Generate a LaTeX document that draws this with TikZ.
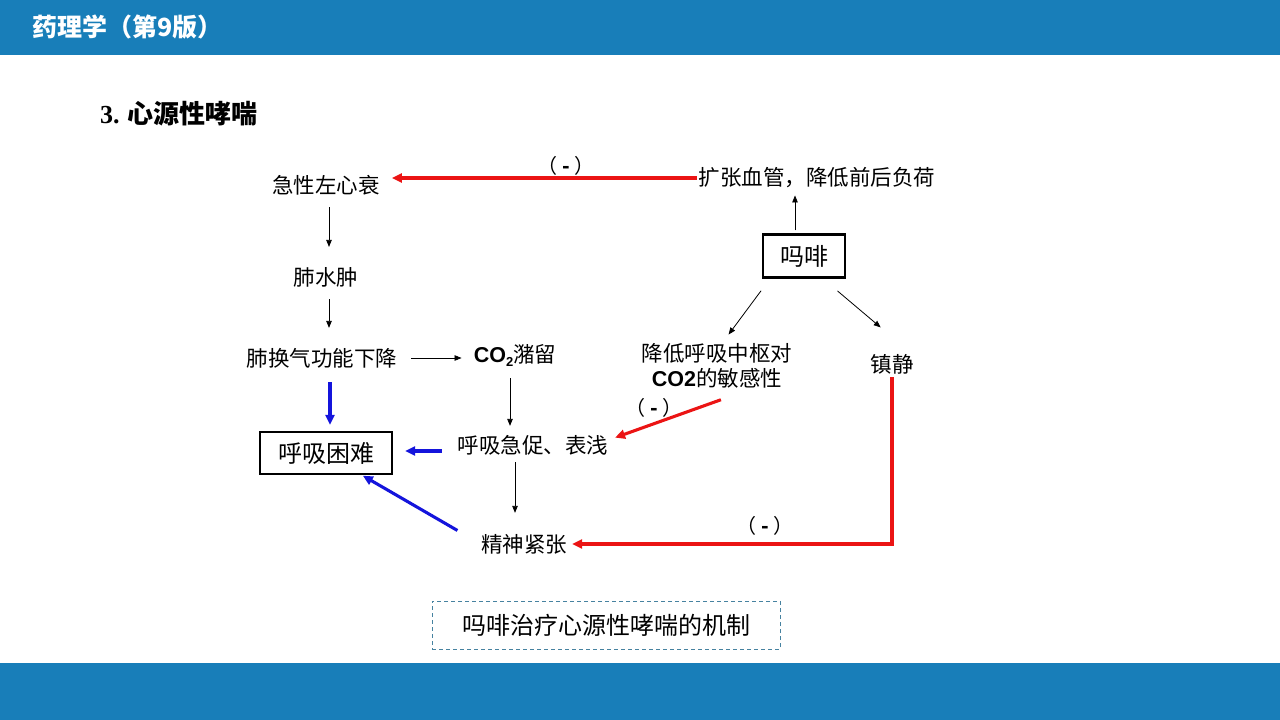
\documentclass[tikz,border=0pt]{standalone}
\usepackage{fontspec}
\setmainfont{Noto Sans CJK SC}
\newfontfamily\arialf{Liberation Sans}
\newfontfamily\timesf{Liberation Serif}
\usetikzlibrary{arrows.meta}
\definecolor{barblue}{RGB}{24,126,185}
\definecolor{arrred}{RGB}{235,20,20}
\definecolor{arrblue}{RGB}{20,20,220}
\definecolor{capline}{RGB}{70,130,160}
\begin{document}
\begin{tikzpicture}[x=1pt,y=-1pt,
  txt/.style={inner sep=0pt, font=\fontsize{21.5}{25}\selectfont, align=center},
  boxn/.style={draw=black, line width=2.4pt, inner sep=0pt, font=\fontsize{24}{28}\selectfont},
  thinarr/.style={-{Triangle[length=7pt,width=5.5pt]}, line width=0.8pt, black},
  redarr/.style={-{Triangle[length=10pt,width=9pt]}, line width=3.1pt, arrred},
  bluearr/.style={-{Triangle[length=10pt,width=9pt]}, line width=3.1pt, arrblue},
  lbl/.style={inner sep=0pt, font=\fontsize{20}{24}\selectfont}
]
\useasboundingbox (0,0) rectangle (1280,720);
\fill[barblue] (0,0) rectangle (1280,55);
\fill[barblue] (0,663) rectangle (1280,720);
\node[anchor=west, text=white, font=\bfseries\fontsize{25}{29}\selectfont, inner sep=0pt] (title) at (32,27) {药理学（第9版）};
\node[anchor=west, font=\bfseries\fontsize{26}{30}\selectfont, inner sep=0pt] (head) at (100,114) {{\timesf 3.} 心源性哮喘};

% nodes
\node[txt] (jx) at (326,185) {急性左心衰};
\node[txt] (fsz) at (326,277) {肺水肿};
\node[txt] (hq) at (322,358) {肺换气功能下降};
\node[txt] (co2) at (515,355) {{\arialf\bfseries CO\raisebox{-0.35ex}{\fontsize{13}{13}\selectfont 2}}潴留};
\node[txt] (hx) at (533,445) {呼吸急促、表浅};
\node[txt] (jszz) at (524,544) {精神紧张};
\node[boxn, minimum width=132pt, minimum height=42pt] (kn) at (326,453) {呼吸困难};
\node[txt] (kz) at (817,178) {扩张血管，降低前后负荷};
\node[boxn, minimum width=82pt, minimum height=43pt] (mf) at (804,256) {吗啡};
\node[txt] (jd) at (717,366) {降低呼吸中枢对\\{\arialf\bfseries CO2}的敏感性};
\node[txt] (zj) at (892,364) {镇静};

% labels
\node[lbl] (l1) at (566,166) {（\hspace{5pt}\textbf{-}\hspace{5pt}）};
\node[lbl] (l2) at (654,408) {（\hspace{5pt}\textbf{-}\hspace{5pt}）};
\node[lbl] (l3) at (765,526) {（\hspace{5pt}\textbf{-}\hspace{5pt}）};

% caption
\node[draw=capline, dash pattern=on 4pt off 3pt, line width=0.8pt, minimum width=348pt, minimum height=48pt, inner sep=0pt, font=\fontsize{24}{28}\selectfont] (cap) at (606,625) {吗啡治疗心源性哮喘的机制};

% black arrows
\draw[thinarr, shorten <=12pt, shorten >=20pt] ([xshift=3pt]jx.south) -- ([xshift=3pt]jx.south |- fsz.north);
\draw[thinarr, shorten <=12pt, shorten >=20pt] ([xshift=3pt]fsz.south) -- ([xshift=3pt]fsz.south |- hq.north);
\draw[thinarr, shorten <=14pt, shorten >=12pt] (hq.east) -- (hq.east -| co2.west);
\draw[thinarr, shorten <=12pt, shorten >=9pt] ([xshift=-5pt]co2.south) -- ([xshift=-5pt]co2.south |- hx.north);
\draw[thinarr, shorten <=7pt, shorten >=21pt] ([xshift=-9pt]hx.south -| jszz.north) -- ([xshift=-9pt]jszz.north);
\draw[thinarr, shorten <=3pt, shorten >=7pt] ([xshift=-9pt]mf.north) -- ([xshift=-9pt]mf.north |- kz.south);
\draw[thinarr, shorten <=15pt, shorten >=11pt] ([xshift=-34pt]mf.south) -- ([xshift=5pt]jd.north);
\draw[thinarr, shorten <=19pt, shorten >=41pt] ([xshift=19pt]mf.south) -- ([xshift=20pt]zj.north);

% blue arrows
\draw[bluearr, shorten <=14pt, shorten >=6pt] ([xshift=4pt]hq.south -| kn.north) -- ([xshift=4pt]kn.north);
\draw[bluearr, shorten <=16pt, shorten >=12pt] ([yshift=2pt]kn.east -| hx.west) -- ([yshift=2pt]kn.east);
\draw[bluearr, shorten <=27pt, shorten >=1pt] (jszz.west) -- ([xshift=36pt]kn.south);

% red arrows
\draw[redarr, shorten <=2pt, shorten >=12pt] (kz.west) -- (kz.west -| jx.east);
\draw[redarr, shorten <=33pt, shorten >=7pt] ([xshift=35pt]jd.south) -- ([yshift=5pt]hx.east);
\draw[redarr, shorten <=3pt, shorten >=5pt] (zj.south) |- (jszz.east);
\end{tikzpicture}
\end{document}
